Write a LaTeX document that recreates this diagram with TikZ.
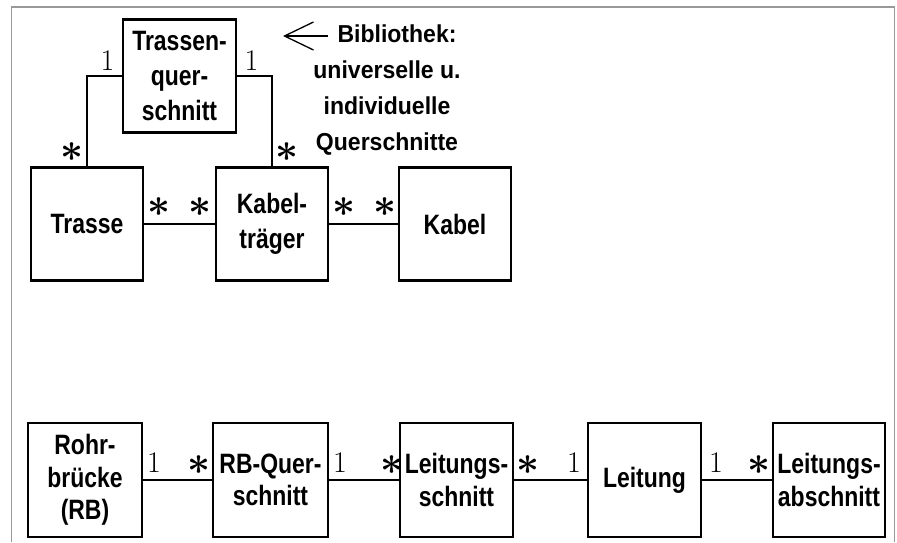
\documentclass[tikz,border=0pt]{standalone}
\usepackage{fontspec}
\newfontfamily\boxfam{Liberation Sans}[FakeStretch=0.82]
\newfontfamily\libfam{Liberation Sans}[FakeStretch=0.94]
\usetikzlibrary{arrows.meta}
\newcommand\myast{\scalebox{4.0}{\boldmath$\ast$}}
\begin{document}
\begin{tikzpicture}[x=1pt,y=-1pt,
  box/.style={draw,line width=2.4pt,inner sep=0pt,align=center,
    font=\boxfam\bfseries\fontsize{28}{35}\selectfont,
    minimum width=#1,minimum height=113pt},
  box/.default=112pt,
  boxlow/.style={box=#1,font=\boxfam\bfseries\fontsize{28}{32.5}\selectfont,minimum height=114pt},
  boxlow/.default=113pt,
  conn/.style={line width=1.7pt},
  one/.style={inner sep=0pt,font=\fontsize{30}{30}\selectfont},
  many/.style={inner sep=0pt},
  frame/.style={draw=black!40,line width=1.5pt}]
\useasboundingbox (0,0) rectangle (897,542);
\draw[frame] (11.5,542) -- (11.5,7) -- (894.5,7) -- (894.5,542);

% top group
\node[box=113pt] (tq) at (179.5,76) {Trassen-\\quer-\\schnitt};
\node[box] (trasse) at (87,224) {Trasse};
\node[box] (kt) at (272,224) {Kabel-\\träger};
\node[box] (kabel) at (455,224) {Kabel};

\draw[conn] (trasse.north) |- (tq.west);
\draw[conn] (kt.north) |- (tq.east);
\draw[conn] (trasse) -- (kt);
\draw[conn] (kt) -- (kabel);

\node[one] (m1) at (107.5,61) {1};
\node[one] (m2) at (251.5,61) {1};
\node[many] (m3) at (72,152) {\myast};
\node[many] (m4) at (287,152) {\myast};
\node[many] (m5) at (159,207) {\myast};
\node[many] (m6) at (200,207) {\myast};
\node[many] (m7) at (344,207) {\myast};
\node[many] (m8) at (385,207) {\myast};

\node[align=center,inner sep=0pt,font=\libfam\bfseries\fontsize{24.5}{35.7}\selectfont]
  (lib) at (387,90) {\hspace*{20pt}Bibliothek:\\universelle u.\\individuelle\\Querschnitte};
\coordinate (arrS) at (328,36);
\coordinate (arrE) at (283,36);
\draw[line width=1.3pt,-{Straight Barb[length=29pt,width=28pt,line width=1.3pt]}] (arrS) -- (arrE);

% bottom row
\node[boxlow=114pt] (rb) at (85,480) {Rohr-\\brücke\\(RB)};
\node[boxlow=115pt] (rbq) at (270.5,480) {RB-Quer-\\schnitt};
\node[boxlow] (ls) at (456.5,480) {Leitungs-\\schnitt};
\node[boxlow] (lt) at (644.5,480) {Leitung};
\node[boxlow=112pt] (la) at (829,480) {Leitungs-\\abschnitt};

\draw[conn] (rb) -- (rbq);
\draw[conn] (rbq) -- (ls);
\draw[conn] (ls) -- (lt);
\draw[conn] (lt) -- (la);

\node[one] (b1) at (154,462.5) {1};
\node[many] (b2) at (199,465) {\myast};
\node[one] (b3) at (340,462.5) {1};
\node[many] (b4) at (391.5,465) {\myast};
\node[many] (b5) at (528,465) {\myast};
\node[one] (b6) at (574,462.5) {1};
\node[one] (b7) at (716,462.5) {1};
\node[many] (b8) at (759,465) {\myast};
\end{tikzpicture}
\end{document}
